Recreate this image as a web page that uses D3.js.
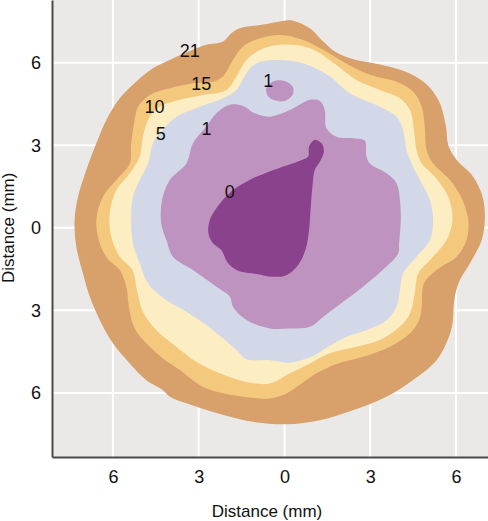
<!DOCTYPE html>
<html>
<head>
<meta charset="utf-8">
<script src="https://cdn.jsdelivr.net/npm/d3@7"></script>
<style>
  body { margin: 0; background: #fff; }
  svg { display: block; font-family: "Liberation Sans", Arial, sans-serif; }
  .tick text { font-size: 18px; fill: #111; }
  .label { font-size: 18px; fill: #111; }
  .title { font-size: 17px; fill: #111; }
</style>
</head>
<body>
<div id="chart"></div>
<script>
// contour outlines, in mm (x, y)
var level21 = [[-0.16,7.50],[0.30,7.53],[0.89,7.25],[1.30,6.83],[1.82,6.37],[2.40,6.13],[2.99,6.01],[4.15,5.71],
  [4.91,5.27],[5.41,4.59],[5.65,3.68],[5.73,3.01],[6.02,2.47],[6.60,1.86],[6.93,1.13],[7.01,0.34],[6.90,-0.44],
  [6.49,-1.29],[6.11,-1.96],[5.94,-2.62],[5.88,-3.47],[5.73,-4.02],[5.32,-4.81],[4.50,-5.53],[3.57,-6.14],
  [2.40,-6.63],[1.24,-6.99],[0.07,-7.14],[-1.10,-7.05],[-2.50,-6.69],[-3.43,-6.38],[-4.01,-6.14],[-4.25,-5.90],
  [-4.83,-5.54],[-5.41,-4.93],[-6.00,-4.20],[-6.46,-3.35],[-6.81,-2.50],[-7.05,-1.65],[-7.28,-0.69],[-7.34,0.28],
  [-7.22,1.13],[-6.93,2.10],[-6.58,3.07],[-6.23,3.92],[-5.76,4.71],[-5.18,5.32],[-4.60,5.80],[-4.01,6.10],
  [-3.20,6.47],[-2.73,6.65],[-2.15,6.77],[-1.86,7.07],[-1.56,7.25],[-0.86,7.37]];

var level15 = [[-0.16,7.01],[0.65,6.83],[1.35,6.47],[2.05,6.04],[2.99,5.56],[3.92,5.31],[4.50,4.95],[4.80,4.40],
  [4.91,3.68],[4.97,2.83],[5.20,2.34],[5.79,1.74],[6.20,1.07],[6.43,0.28],[6.37,-0.44],[6.02,-1.05],[5.32,-1.53],
  [4.88,-2.02],[4.80,-2.87],[4.71,-3.36],[4.39,-3.84],[3.69,-4.32],[2.75,-4.69],[1.82,-4.95],[1.12,-5.29],
  [0.60,-5.66],[0.07,-6.02],[-0.51,-6.20],[-1.45,-6.14],[-2.26,-5.99],[-2.96,-5.72],[-3.66,-5.17],[-4.25,-4.75],
  [-4.83,-4.20],[-5.24,-3.66],[-5.44,-2.87],[-5.53,-2.14],[-5.76,-1.53],[-6.17,-1.14],[-6.46,-0.56],[-6.58,0.28],
  [-6.35,1.13],[-5.88,1.74],[-5.41,2.34],[-5.36,3.07],[-5.24,3.92],[-5.12,4.40],[-4.71,4.83],[-4.01,5.07],
  [-3.20,5.25],[-2.50,5.31],[-2.15,5.50],[-1.80,6.10],[-1.45,6.59],[-0.86,6.89]];

var level10 = [[-0.16,6.65],[0.89,6.53],[1.82,5.92],[2.52,5.37],[3.34,5.01],[4.04,4.71],[4.39,4.28],[4.53,3.56],
  [4.62,2.83],[4.80,2.34],[5.26,1.86],[5.73,1.13],[5.88,0.28],[5.67,-0.44],[5.20,-1.05],[4.68,-1.66],[4.56,-2.38],
  [4.39,-3.11],[4.04,-3.59],[3.34,-4.08],[2.52,-4.32],[1.59,-4.56],[0.89,-4.93],[0.19,-5.29],[-0.51,-5.66],
  [-1.33,-5.60],[-2.26,-5.29],[-3.08,-4.87],[-3.78,-4.32],[-4.48,-3.72],[-4.95,-3.05],[-5.16,-2.26],[-5.32,-1.53],
  [-5.76,-1.05],[-6.06,-0.32],[-6.11,0.53],[-5.88,1.37],[-5.41,1.98],[-5.06,2.59],[-4.95,3.32],[-4.71,4.04],
  [-4.36,4.40],[-3.66,4.65],[-2.85,4.83],[-2.03,5.01],[-1.68,5.50],[-1.33,6.10],[-0.86,6.46]];

var level5 = [[-0.16,6.10],[0.65,5.98],[1.59,5.50],[2.29,4.89],[3.34,4.40],[3.92,4.04],[4.15,3.56],[4.27,2.83],
  [4.50,2.22],[4.80,1.62],[5.09,1.01],[5.20,0.28],[5.09,-0.44],[4.62,-1.05],[4.15,-1.66],[4.04,-2.26],[3.92,-2.87],
  [3.57,-3.36],[2.87,-3.72],[2.17,-3.96],[1.35,-4.44],[1.00,-4.66],[0.19,-4.90],[-0.51,-4.81],[-1.33,-4.78],
  [-1.68,-4.44],[-2.50,-3.72],[-3.43,-3.05],[-4.13,-2.63],[-4.77,-2.02],[-5.06,-1.29],[-5.30,-0.56],[-5.36,0.41],
  [-5.30,1.13],[-5.06,1.74],[-4.77,2.34],[-4.60,3.07],[-4.36,3.44],[-3.78,4.04],[-2.96,4.40],[-2.15,4.71],
  [-1.68,5.01],[-1.33,5.62],[-0.98,5.98]];

var level1 = [[-1.91,4.47],[-1.45,4.43],[-1.04,4.16],[-0.51,4.04],[0.19,4.28],[0.89,4.65],[1.24,4.61],[1.41,4.28],
  [1.47,3.62],[1.82,3.31],[2.46,3.25],[2.81,3.17],[2.87,2.59],[2.99,2.34],[3.57,1.98],[3.92,1.62],[4.04,1.01],
  [4.07,0.28],[4.01,-0.56],[3.98,-0.93],[3.57,-1.41],[2.75,-2.14],[1.82,-2.87],[1.35,-3.24],[0.89,-3.60],
  [0.19,-3.66],[-0.51,-3.66],[-1.33,-3.35],[-1.80,-2.87],[-1.91,-2.50],[-2.38,-2.14],[-3.20,-1.53],[-3.90,-1.05],
  [-4.13,-0.44],[-4.31,0.16],[-4.28,1.01],[-4.01,1.74],[-3.43,2.34],[-3.20,3.07],[-2.73,3.68],[-2.38,4.16]];

var level1Spot = [[-0.63,5.07],[-0.40,5.32],[0.01,5.34],[0.30,5.11],[0.28,4.83],[0.01,4.61],[-0.40,4.65],[-0.60,4.83]];

var level0 = [[1.06,3.19],[1.30,3.07],[1.38,2.77],[1.24,2.40],[1.06,2.10],[0.98,1.50],[0.92,0.77],[0.86,-0.08],
  [0.75,-0.75],[0.48,-1.35],[0.07,-1.72],[-0.40,-1.78],[-0.98,-1.68],[-1.62,-1.56],[-1.97,-1.29],[-2.21,-0.81],
  [-2.50,-0.56],[-2.66,-0.20],[-2.61,0.28],[-2.38,0.71],[-1.80,1.37],[-1.10,1.80],[-0.28,2.14],[0.54,2.44],
  [0.83,2.59],[0.86,2.95]];

var bandColors = ["#d8a06a", "#f4c97e", "#fcedc3", "#d3d8e8", "#bf93bf", "#bf93bf", "#8b428c"];

// contour labels and where they sit
var labelText = ["21", "15", "10", "5", "1", "1", "0"];
var labelPos = [[-3.31,6.46],[-2.91,5.25],[-4.54,4.40],[-4.33,3.44],[-2.73,3.62],[-0.57,5.37],[-1.91,1.31]];

var tickVals = [-6, -3, 0, 3, 6];

function init() {
    var margin = {top: 0, right: 0, bottom: 64, left: 52},
        w = 488 - margin.left - margin.right,
        h = 521 - margin.top - margin.bottom;

    var x = d3.scaleLinear().domain([-8.13, 7.12]).range([0, w]),
        y = d3.scaleLinear().domain([-8.33, 8.28]).range([h, 0]);

    var svg = d3.select("#chart").append("svg")
        .attr("width", w + margin.left + margin.right)
        .attr("height", h + margin.top + margin.bottom);

    var g = svg.append("g")
        .attr("transform", "translate(" + margin.left + "," + margin.top + ")");

    // grey plot area
    g.append("rect")
        .attr("width", w)
        .attr("height", h)
        .style("fill", "#ebe9e8");

    // white grid
    g.selectAll(".vgrid").data(tickVals).enter().append("line")
        .attr("x1", function(d) { return x(d); })
        .attr("x2", function(d) { return x(d); })
        .attr("y1", 0).attr("y2", h)
        .style("stroke", "#fff").style("stroke-width", 2);
    g.selectAll(".hgrid").data(tickVals).enter().append("line")
        .attr("y1", function(d) { return y(d); })
        .attr("y2", function(d) { return y(d); })
        .attr("x1", 0).attr("x2", w)
        .style("stroke", "#fff").style("stroke-width", 2);

    var line = d3.line()
        .x(function(d) { return x(d[0]); })
        .y(function(d) { return y(d[1]); })
        .curve(d3.curveCatmullRomClosed.alpha(0.5));

    var bands = [level21, level15, level10, level5, level1, level1Spot, level0];

    g.selectAll(".band").data(bands).enter().append("path")
        .attr("class", "band")
        .attr("d", line)
        .style("fill", function(d, i) { return bandColors[i]; });

    g.selectAll(".label").data(labelText).enter().append("text")
        .attr("class", "label")
        .attr("x", function(d, i) { return x(labelPos[i][0]); })
        .attr("y", function(d, i) { return y(labelPos[i][1]); })
        .attr("text-anchor", "middle")
        .attr("dy", "0.36em")
        .text(function(d) { return d; });

    // axes, labels shown as distance from centre
    var xAxis = d3.axisBottom(x).tickValues(tickVals).tickSize(0).tickPadding(13)
        .tickFormat(function(d) { return Math.abs(d); });
    var yAxis = d3.axisLeft(y).tickValues(tickVals).tickSize(0).tickPadding(11)
        .tickFormat(function(d) { return Math.abs(d); });

    var gx = g.append("g").attr("transform", "translate(0," + h + ")").call(xAxis);
    var gy = g.append("g").call(yAxis);
    gx.attr("font-family", null).attr("font-size", null);
    gy.attr("font-family", null).attr("font-size", null);
    [gx, gy].forEach(function(a) {
        a.select(".domain").style("stroke", "#4a4a4a").style("stroke-width", 2);
    });

    svg.append("text")
        .attr("class", "title")
        .attr("x", 267)
        .attr("y", 517)
        .attr("text-anchor", "middle")
        .text("Distance (mm)");

    svg.append("text")
        .attr("class", "title")
        .attr("transform", "translate(14," + (margin.top + y(0)) + ") rotate(-90)")
        .attr("text-anchor", "middle")
        .text("Distance (mm)");
}
init();
</script>
</body>
</html>
